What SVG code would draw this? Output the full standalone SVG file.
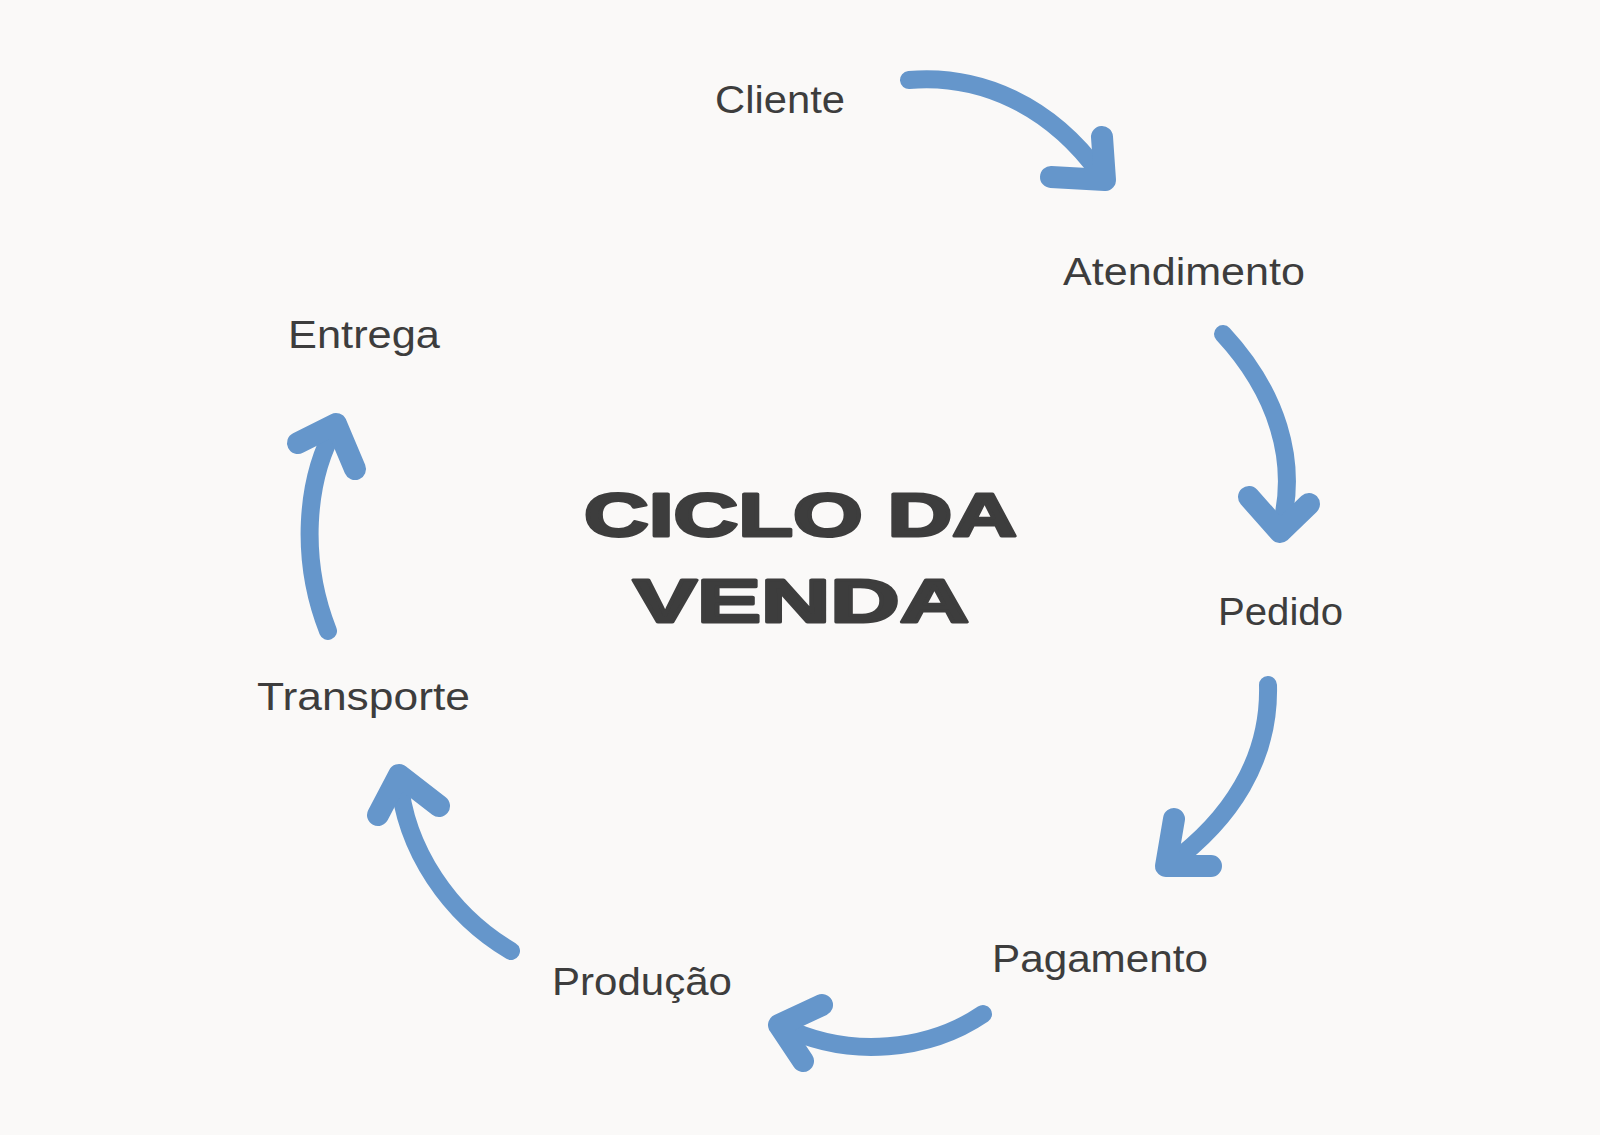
<svg xmlns="http://www.w3.org/2000/svg" width="1600" height="1135" viewBox="0 0 1600 1135">
  <style>
    .lbl { font-family: "Liberation Sans", Arial, sans-serif; font-size: 38px; fill: #3d3d3d; }
    .title { font-family: "Liberation Sans", Arial, sans-serif; font-weight: bold; font-size: 62px; fill: #3d3d3d; stroke: #3d3d3d; stroke-width: 3; stroke-linejoin: round; }
    .shaft { fill: none; stroke: #6596CB; stroke-width: 18; stroke-linecap: round; }
    .head { fill: none; stroke: #6596CB; stroke-width: 22; stroke-linecap: round; stroke-linejoin: round; }
  </style>
  <rect x="0" y="0" width="1600" height="1135" fill="#FAF9F8"/>

  <g id="title">
    <text class="title" x="584" y="536" textLength="433" lengthAdjust="spacingAndGlyphs">CICLO DA</text>
    <text class="title" x="633" y="622" textLength="336" lengthAdjust="spacingAndGlyphs">VENDA</text>
  </g>

  <g id="node-cliente"><text class="lbl" x="715" y="113" textLength="130" lengthAdjust="spacingAndGlyphs">Cliente</text></g>
  <g id="node-atendimento"><text class="lbl" x="1063" y="285" textLength="242" lengthAdjust="spacingAndGlyphs">Atendimento</text></g>
  <g id="node-pedido"><text class="lbl" x="1218" y="625" textLength="125" lengthAdjust="spacingAndGlyphs">Pedido</text></g>
  <g id="node-pagamento"><text class="lbl" x="992" y="972" textLength="216" lengthAdjust="spacingAndGlyphs">Pagamento</text></g>
  <g id="node-producao"><text class="lbl" x="552" y="995" textLength="180" lengthAdjust="spacingAndGlyphs">Produção</text></g>
  <g id="node-transporte"><text class="lbl" x="257" y="710" textLength="213" lengthAdjust="spacingAndGlyphs">Transporte</text></g>
  <g id="node-entrega"><text class="lbl" x="288" y="348" textLength="152" lengthAdjust="spacingAndGlyphs">Entrega</text></g>

  <g id="connectors">
    <path class="shaft" d="M909,80 C980,74 1050,105 1100,174"/>
    <path class="head" d="M1102,137 L1105,180 L1051,177"/>

    <path class="shaft" d="M1223,334 C1275,390 1300,460 1280,530"/>
    <path class="head" d="M1249,497 L1280,532 L1309,504"/>

    <path class="shaft" d="M1268,685 C1270,760 1230,820 1170,864"/>
    <path class="head" d="M1174,819 L1166,866 L1211,866"/>

    <path class="shaft" d="M983,1014 C930,1050 850,1060 782,1026"/>
    <path class="head" d="M822,1005 L779,1025 L803,1061"/>

    <path class="shaft" d="M511,951 C450,915 405,850 399,778"/>
    <path class="head" d="M378,815 L399,775 L439,806"/>

    <path class="shaft" d="M328,631 C300,560 305,480 336,426"/>
    <path class="head" d="M298,443 L336,424 L355,469"/>
  </g>
</svg>
